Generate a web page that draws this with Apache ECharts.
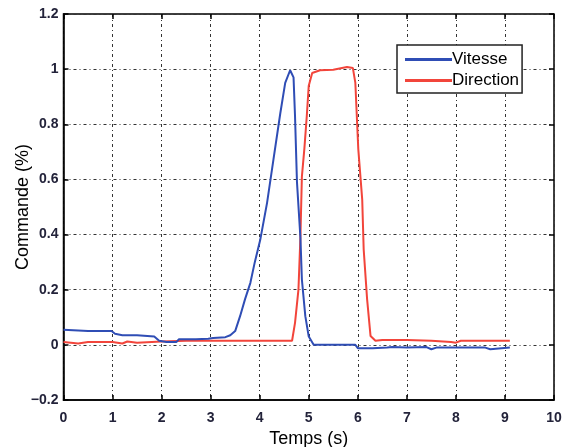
<!DOCTYPE html>
<html><head><meta charset="utf-8">
<script src="https://cdn.jsdelivr.net/npm/echarts@6/dist/echarts.min.js"></script>
<style>html,body{margin:0;padding:0;background:#fff}#c{width:563px;height:447px}</style>
</head><body><div id="c"></div>
<script>
const vitT = [0, 0.5, 0.98, 1.05, 1.2, 1.5, 1.85, 1.95, 2.1, 2.3, 2.35, 2.7, 2.95, 3.05, 3.3, 3.4, 3.5, 3.6, 3.7, 3.81, 3.9, 4.01, 4.15, 4.28, 4.42, 4.52, 4.62, 4.66, 4.69, 4.72, 4.76, 4.83, 4.86, 4.88, 4.93, 5.0, 5.1, 5.5, 5.95, 6.0, 6.3, 6.6, 6.7, 7.0, 7.4, 7.5, 7.6, 8.0, 8.6, 8.7, 9.1];
const vitY = [0.055, 0.05, 0.05, 0.04, 0.035, 0.035, 0.03, 0.015, 0.01, 0.01, 0.02, 0.02, 0.022, 0.025, 0.028, 0.035, 0.05, 0.104, 0.165, 0.225, 0.30, 0.38, 0.515, 0.672, 0.84, 0.95, 0.996, 0.99, 0.97, 0.83, 0.59, 0.39, 0.237, 0.24, 0.104, 0.03, 0.0, 0.0, 0.0, -0.012, -0.012, -0.01, -0.008, -0.01, -0.008, -0.016, -0.01, -0.01, -0.01, -0.016, -0.01];
const dirT = [0, 0.3, 0.5, 1.0, 1.2, 1.3, 1.5, 2.0, 2.5, 3.0, 4.0, 4.66, 4.72, 4.79, 4.83, 4.86, 4.91, 4.96, 5.0, 5.07, 5.23, 5.5, 5.78, 5.9, 5.95, 6.01, 6.09, 6.12, 6.19, 6.26, 6.36, 6.5, 7.0, 7.5, 7.9, 8.0, 8.1, 8.5, 9.1];
const dirY = [0.01, 0.005, 0.01, 0.01, 0.005, 0.012, 0.008, 0.012, 0.015, 0.015, 0.015, 0.015, 0.08, 0.2, 0.39, 0.61, 0.71, 0.83, 0.94, 0.986, 0.996, 0.998, 1.008, 1.004, 0.95, 0.71, 0.527, 0.346, 0.165, 0.032, 0.015, 0.018, 0.018, 0.015, 0.01, 0.008, 0.015, 0.015, 0.015];
const seriesNames = ['Vitesse', 'Direction'];
const xTicks = [0,1,2,3,4,5,6,7,8,9,10];
const yTicks = [-0.2,0,0.2,0.4,0.6,0.8,1,1.2];

const pair = (t, y) => t.map((v, i) => [v, y[i]]);
const chart = echarts.init(document.getElementById('c'), null, {renderer: 'canvas'});
const FF = 'Liberation Sans, Arial, sans-serif';
const labelStyle = {color: '#23233a', fontSize: 14, fontWeight: 'bold', fontFamily: FF};
const gridLine = {show: true, lineStyle: {color: '#333', type: [3, 3, 1, 3], width: 1}};
const innerTick = {show: true, inside: true, length: 5, lineStyle: {color: '#000', width: 1.5}};
chart.setOption({
  animation: false,
  backgroundColor: '#fff',
  grid: {left: 63.5, right: 9, top: 14, bottom: 47, containLabel: false, outerBoundsMode: 'none',
         show: true, borderColor: '#000', borderWidth: 1.5, backgroundColor: 'transparent'},
  legend: {
    orient: 'vertical', left: 397, top: 45,
    backgroundColor: '#fff', borderColor: '#222', borderWidth: 1.5, borderRadius: 0,
    padding: [6, 3, 4, 8], itemGap: 4, itemWidth: 47, itemHeight: 3, icon: 'rect',
    textStyle: {fontSize: 17, color: '#000', fontFamily: FF, padding: [0, 0, 0, -5]},
    data: seriesNames
  },
  xAxis: [{
    type: 'value', min: 0, max: 10, interval: 1,
    name: 'Temps (s)', nameLocation: 'middle', nameGap: 30, nameMoveOverlap: false,
    nameTextStyle: {fontSize: 18, color: '#000', fontFamily: FF},
    axisLine: {show: true, onZero: false, lineStyle: {color: '#000', width: 1.5}},
    axisTick: innerTick,
    axisLabel: Object.assign({margin: 11, formatter: v => xTicks.includes(v) ? String(v) : ''}, labelStyle),
    splitLine: gridLine
  }, {
    type: 'value', min: 0, max: 10, interval: 1, position: 'top',
    axisLine: {show: false, onZero: false}, axisLabel: {show: false}, splitLine: {show: false},
    axisTick: innerTick
  }],
  yAxis: [{
    type: 'value', min: -0.2, max: 1.2, interval: 0.2,
    name: 'Commande (%)', nameLocation: 'middle', nameGap: 31, nameMoveOverlap: false,
    nameTextStyle: {fontSize: 18, color: '#000', fontFamily: FF},
    axisLine: {show: true, onZero: false, lineStyle: {color: '#000', width: 1.5}},
    axisTick: innerTick,
    axisLabel: Object.assign({margin: 5, formatter: v => {
      const r = Math.round(v * 10) / 10;
      return String(r).replace('-', '\u2212');
    }}, labelStyle),
    splitLine: gridLine
  }, {
    type: 'value', min: -0.2, max: 1.2, interval: 0.2, position: 'right',
    axisLine: {show: false, onZero: false}, axisLabel: {show: false}, splitLine: {show: false},
    axisTick: innerTick
  }],
  series: [{
    name: seriesNames[0], type: 'line', data: pair(vitT, vitY), showSymbol: false,
    lineStyle: {color: '#2f4db5', width: 2}, itemStyle: {color: '#2f4db5'}, z: 3
  }, {
    name: seriesNames[1], type: 'line', data: pair(dirT, dirY), showSymbol: false,
    lineStyle: {color: '#f2453b', width: 2}, itemStyle: {color: '#f2453b'}, z: 2
  }]
});
</script></body></html>
